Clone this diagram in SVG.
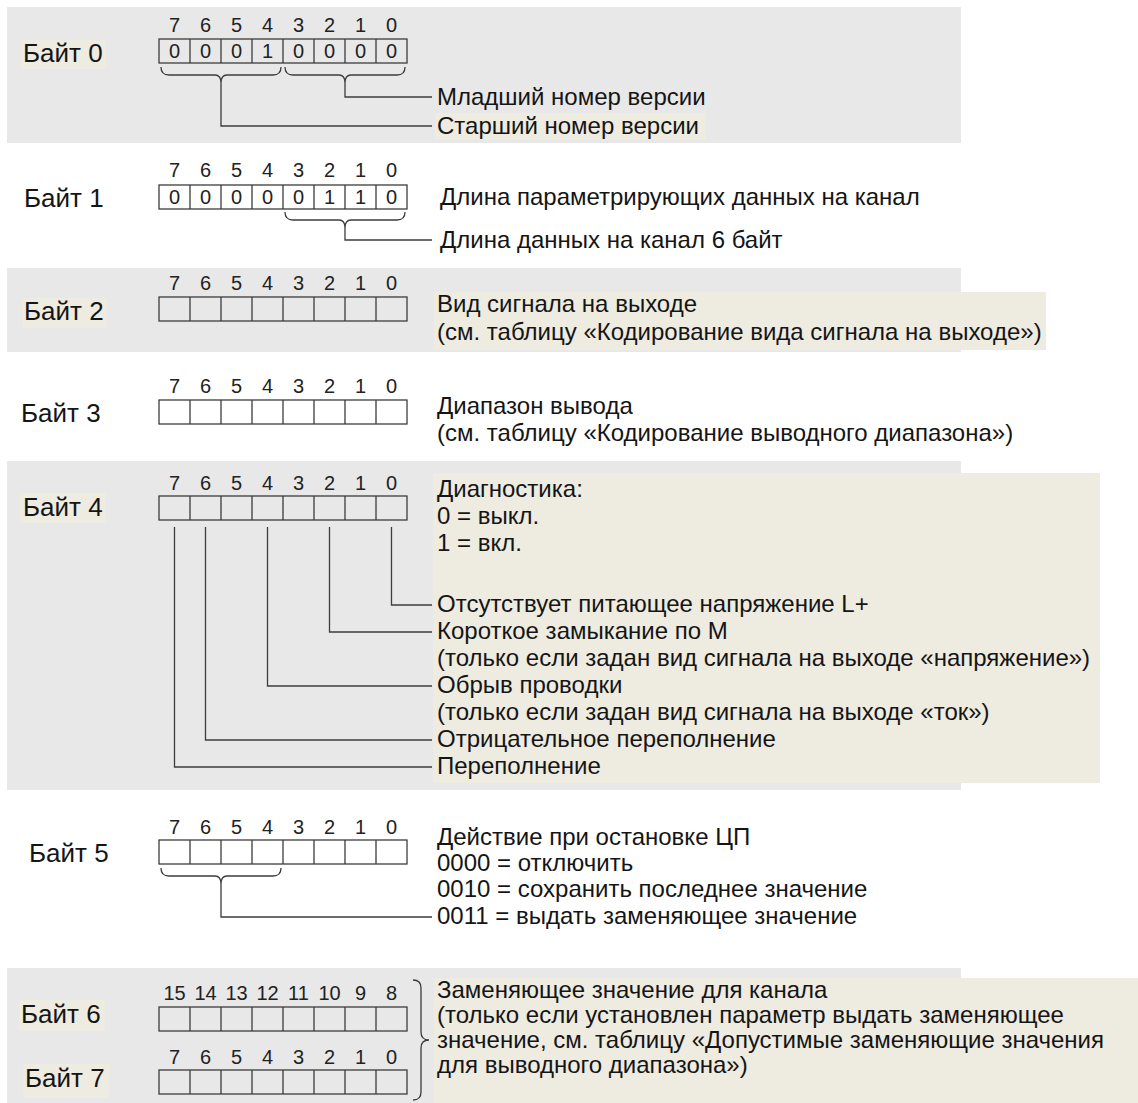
<svg xmlns="http://www.w3.org/2000/svg" xmlns:xlink="http://www.w3.org/1999/xlink" width="1138" height="1103" viewBox="0 0 1138 1103">
<style>
.panel{fill:#e8e8e8}
.hl{fill:#eeebe1}
.lbl{font-family:"Liberation Sans",Arial,sans-serif;font-size:26px;fill:#151515}
.bit{font-family:"Liberation Sans",Arial,sans-serif;font-size:20px;fill:#222;text-anchor:middle}
.txt{font-family:"Liberation Sans",Arial,sans-serif;font-size:24px;fill:#151515}
.ln{fill:none;stroke:#3c3c3c;stroke-width:1.3}
</style>
<defs>
<g id="cells" class="ln">
<rect x="0" y="0" width="248" height="24"/>
<path d="M31 0V24M62 0V24M93 0V24M124 0V24M155 0V24M186 0V24M217 0V24"/>
</g>
<path id="brace" class="ln" d="M0 0Q0 8 8 8H54Q60 8 60 16Q60 8 66 8H112Q120 8 120 0"/>
</defs>
<rect width="1138" height="1103" fill="#ffffff"/>
<rect class="panel" x="7" y="7" width="954" height="136"/>
<rect class="panel" x="7" y="268" width="954" height="84"/>
<rect class="panel" x="7" y="461" width="954" height="329"/>
<rect class="panel" x="7" y="968" width="954" height="135"/>
<rect class="hl" x="434" y="292" width="612" height="58"/>
<rect class="hl" x="433" y="473" width="667" height="310"/>
<rect class="hl" x="434" y="978" width="704" height="125"/>
<rect class="hl" x="435" y="113" width="271" height="27"/>

<g id="byte0">
<rect class="hl" x="21" y="40" width="85" height="29"/>
<text class="lbl" x="23" y="62">Байт 0</text>
<text class="bit" x="174.5 205.5 236.5 267.5 298.5 329.5 360.5 391.5" y="32">76543210</text>
<use href="#cells" x="159" y="39"/>
<text class="bit" x="174.5 205.5 236.5 267.5 298.5 329.5 360.5 391.5" y="58">00010000</text>
<use href="#brace" x="161" y="67"/>
<use href="#brace" x="285" y="67"/>
<text class="txt" x="437" y="105">Младший номер версии</text>
<text class="txt" x="437" y="134">Старший номер версии</text>
</g>

<g id="byte1">
<text class="lbl" x="24" y="207">Байт 1</text>
<text class="bit" x="174.5 205.5 236.5 267.5 298.5 329.5 360.5 391.5" y="177">76543210</text>
<use href="#cells" x="159" y="185"/>
<text class="bit" x="174.5 205.5 236.5 267.5 298.5 329.5 360.5 391.5" y="204">00000110</text>
<use href="#brace" x="285" y="212"/>
<text class="txt" x="440" y="205">Длина параметрирующих данных на канал</text>
<text class="txt" x="440" y="248">Длина данных на канал 6 байт</text>
</g>

<g id="byte2">
<rect class="hl" x="22" y="298" width="85" height="30"/>
<text class="lbl" x="24" y="320">Байт 2</text>
<text class="bit" x="174.5 205.5 236.5 267.5 298.5 329.5 360.5 391.5" y="290">76543210</text>
<use href="#cells" x="159" y="297"/>
<text class="txt" x="437" y="312">Вид сигнала на выходе</text>
<text class="txt" x="437" y="340">(см. таблицу «Кодирование вида сигнала на выходе»)</text>
</g>

<g id="byte3">
<text class="lbl" x="21" y="422">Байт 3</text>
<text class="bit" x="174.5 205.5 236.5 267.5 298.5 329.5 360.5 391.5" y="393">76543210</text>
<use href="#cells" x="159" y="400"/>
<text class="txt" x="437" y="414">Диапазон вывода</text>
<text class="txt" x="437" y="441">(см. таблицу «Кодирование выводного диапазона»)</text>
</g>

<g id="byte4">
<rect class="hl" x="20" y="493" width="86" height="30"/>
<text class="lbl" x="23" y="516">Байт 4</text>
<text class="bit" x="174.5 205.5 236.5 267.5 298.5 329.5 360.5 391.5" y="490">76543210</text>
<use href="#cells" x="159" y="496"/>
<text class="txt" x="437" y="497">Диагностика:</text>
<text class="txt" x="437" y="524">0 = выкл.</text>
<text class="txt" x="437" y="551">1 = вкл.</text>
<text class="txt" x="437" y="612">Отсутствует питающее напряжение L+</text>
<text class="txt" x="437" y="639">Короткое замыкание по M</text>
<text class="txt" x="437" y="666">(только если задан вид сигнала на выходе «напряжение»)</text>
<text class="txt" x="437" y="693">Обрыв проводки</text>
<text class="txt" x="437" y="720">(только если задан вид сигнала на выходе «ток»)</text>
<text class="txt" x="437" y="747">Отрицательное переполнение</text>
<text class="txt" x="437" y="774">Переполнение</text>
</g>

<g id="byte5">
<text class="lbl" x="29" y="862">Байт 5</text>
<text class="bit" x="174.5 205.5 236.5 267.5 298.5 329.5 360.5 391.5" y="834">76543210</text>
<use href="#cells" x="159" y="840"/>
<use href="#brace" x="161" y="868"/>
<text class="txt" x="437" y="845">Действие при остановке ЦП</text>
<text class="txt" x="437" y="871">0000 = отключить</text>
<text class="txt" x="437" y="897">0010 = сохранить последнее значение</text>
<text class="txt" x="437" y="924">0011 = выдать заменяющее значение</text>
</g>

<g id="byte6_7">
<rect class="hl" x="19" y="1000" width="86" height="31"/>
<rect class="hl" x="23" y="1064" width="86" height="34"/>
<text class="lbl" x="21" y="1023">Байт 6</text>
<text class="lbl" x="25" y="1087">Байт 7</text>
<text class="bit" y="1000"><tspan x="174.5">15</tspan><tspan x="205.5">14</tspan><tspan x="236.5">13</tspan><tspan x="267.5">12</tspan><tspan x="298.5">11</tspan><tspan x="329.5">10</tspan><tspan x="360.5">9</tspan><tspan x="391.5">8</tspan></text>
<use href="#cells" x="159" y="1007"/>
<text class="bit" x="174.5 205.5 236.5 267.5 298.5 329.5 360.5 391.5" y="1064">76543210</text>
<use href="#cells" x="159" y="1070"/>
<path class="ln" d="M413 980Q421 980 421 988V1032Q421 1040 429 1040Q421 1040 421 1048V1092Q421 1100 413 1100"/>
<text class="txt" x="437" y="998">Заменяющее значение для канала</text>
<text class="txt" x="437" y="1023">(только если установлен параметр выдать заменяющее</text>
<text class="txt" x="437" y="1048">значение, см. таблицу «Допустимые заменяющие значения</text>
<text class="txt" x="437" y="1073">для выводного диапазона»)</text>
</g>

<g id="connectors" class="ln">
<path d="M345 83V97H432"/>
<path d="M221 83V126H432"/>
<path d="M345 228V240H432"/>
<path d="M391.5 527V605H432"/>
<path d="M329.5 527V632H432"/>
<path d="M267.5 527V686H432"/>
<path d="M205.5 527V740H432"/>
<path d="M174.5 527V767H432"/>
<path d="M221 884V917H432"/>
</g>
</svg>
